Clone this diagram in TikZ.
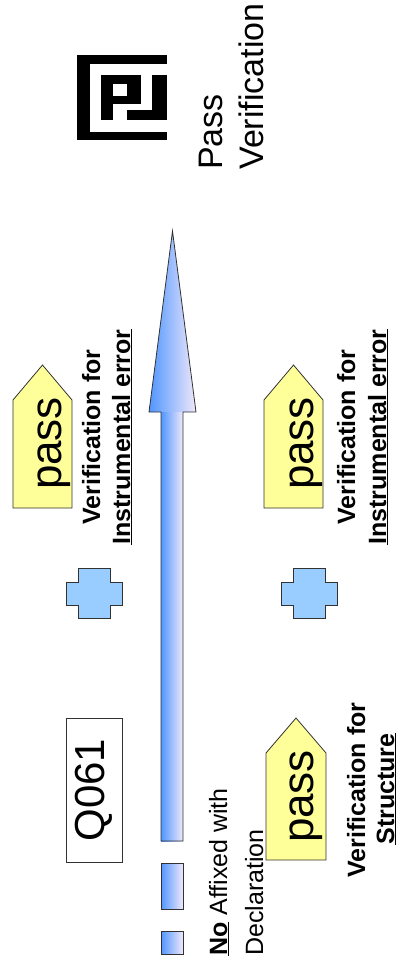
\documentclass[tikz,border=0pt]{standalone}
\usepackage{fontspec}
\setmainfont{Liberation Sans}
\usepackage{tikz}
\definecolor{passyellow}{RGB}{255,255,153}
\definecolor{crossblue}{RGB}{153,204,255}
\definecolor{arrowblue}{RGB}{80,150,255}
\definecolor{arrowpale}{RGB}{240,232,250}
\definecolor{edgegray}{RGB}{50,50,50}

\begin{document}
\begin{tikzpicture}[x=1pt, y=-1pt,
    passbox/.style={draw=edgegray, fill=passyellow, line width=0.8pt},
    crossbox/.style={draw=edgegray, fill=crossblue, line width=0.8pt},
    barshade/.style={left color=arrowblue, right color=arrowpale},
    passtxt/.style={rotate=90, anchor=base, inner sep=0pt, font=\fontsize{44}{44}\selectfont},
    stepnote/.style={rotate=90, anchor=base, inner sep=0pt, font=\bfseries\fontsize{25}{30}\selectfont},
    plainnote/.style={rotate=90, anchor=base west, inner sep=0pt, font=\fontsize{25}{30}\selectfont}]

    \useasboundingbox (0,0) rectangle (406,966);

    % marker
    \fill[black] (77,55) rectangle (167,140);
    \fill[white] (90,64) rectangle (167,132);
    \fill[black] (101,75) rectangle (113,120);
    \fill[black] (113,75) rectangle (141,84);
    \fill[black] (127,75) rectangle (141,104);
    \fill[black] (113,96) rectangle (141,104);
    \fill[black] (152,75) rectangle (167,120);
    \fill[black] (127,110) rectangle (167,120);

    \node[plainnote, font=\fontsize{34}{41}\selectfont] (passok) at (222,170) {Pass};
    \node[plainnote, font=\fontsize{34}{41}\selectfont] (passver) at (263,170) {Verification};

    % arrow and bars
    \shade[barshade] (149,412) -- (172.5,231) -- (196,412) -- cycle;
    \shade[barshade] (161,412) rectangle (183,841);
    \draw[edgegray, line width=0.8pt] (161,841) -- (161,412) -- (149,412) -- (172.5,231) -- (196,412) -- (183,412) -- (183,841) -- cycle;
    \shade[barshade, draw=edgegray, line width=0.8pt] (161,863) rectangle (183,909);
    \shade[barshade, draw=edgegray, line width=0.8pt] (161,931) rectangle (183,954);

    % pass tags
    \draw[passbox] (13,508) -- (13,400) -- (42.5,365) -- (72,400) -- (72,508) -- cycle;
    \draw[passbox] (264,508) -- (264,400) -- (293.5,365) -- (323,400) -- (323,508) -- cycle;
    \draw[passbox] (266,860) -- (266,753) -- (296,718) -- (326,753) -- (326,860) -- cycle;
    \node[passtxt] (passA) at (61,443.5) {pass};
    \node[passtxt] (passB) at (313,443.5) {pass};
    \node[passtxt] (passC) at (313,796.5) {pass};

    % crosses
    \foreach \dx in {0,215}
      \draw[crossbox, xshift=\dx pt] (78,568) -- (110,568) -- (110,582) -- (122,582) -- (122,605) -- (110,605) -- (110,618) -- (78,618) -- (78,605) -- (66,605) -- (66,582) -- (78,582) -- cycle;

    \node[draw=edgegray, line width=0.8pt, rotate=90, minimum width=144pt, minimum height=56pt, inner sep=0pt, font=\fontsize{42}{42}\selectfont] (qcode) at (94,790) {Q061};

    \node[stepnote] (verA) at (100,437) {Verification for};
    \node[stepnote] (instA) at (130,437) {\underline{Instrumental error}};
    \node[stepnote] (verB) at (355,437) {Verification for};
    \node[stepnote] (instB) at (386,437) {\underline{Instrumental error}};
    \node[stepnote] (verC) at (365,790) {Verification for};
    \node[stepnote] (structC) at (394,789) {\underline{Structure}};

    \node[plainnote] (noaff) at (227,956) {\underline{\textbf{No}} Affixed with};
    \node[plainnote] (decl) at (263,956) {Declaration};
\end{tikzpicture}
\end{document}
